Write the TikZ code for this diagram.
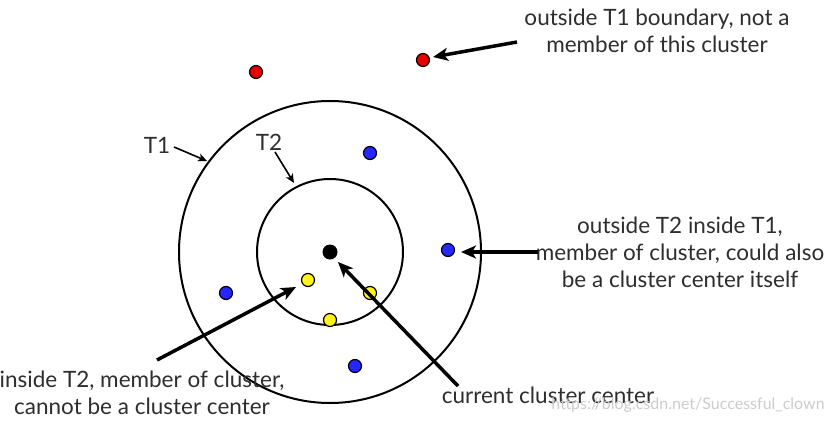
\documentclass[tikz,border=0pt]{standalone}
\usepackage{fontspec}
\setmainfont{Lato}
\usetikzlibrary{arrows.meta}
\tikzset{
  dot/.style={circle, draw=black, line width=1.2pt, minimum size=13pt, inner sep=0pt},
  reddot/.style={dot, fill=red!90!black},
  bluedot/.style={dot, fill=blue!85!white},
  yellowdot/.style={dot, fill=yellow!90!white},
  centerdot/.style={circle, fill=black, minimum size=15pt, inner sep=0pt},
  ring/.style={draw=black, line width=2pt},
  ptr/.style={line width=3.5pt, -{Stealth[length=15pt, width=13pt, inset=4pt]}},
  thinptr/.style={line width=1.6pt, -{Stealth[length=9pt, width=8pt, inset=2.5pt]}},
  lbl/.style={font=\fontsize{22.5}{27}\selectfont, text=black!82, align=center, inner sep=0pt},
}
\begin{document}
\begin{tikzpicture}[x=1pt, y=-1pt]
\useasboundingbox (0,0) rectangle (832,423);
\fill[white] (0,0) rectangle (832,423);
% rings
\draw[ring] (330,252) circle (151);
\draw[ring] (330,252) circle (73);
% points
\node[centerdot] (c) at (330,252) {};
\node[reddot] (r1) at (256,72) {};
\node[reddot] (r2) at (423,60) {};
\node[bluedot] (b1) at (370,153) {};
\node[bluedot] (b2) at (448,250) {};
\node[bluedot] (b3) at (226,293) {};
\node[bluedot] (b4) at (355,366) {};
\node[yellowdot] (y1) at (308,280) {};
\node[yellowdot] (y2) at (370,293) {};
\node[yellowdot] (y3) at (330,320) {};
% labels
\node[lbl] (t1) at (157,145) {T1};
\node[lbl] (t2) at (269,142) {T2};
\node[lbl] (lout) at (657,31) {outside T1 boundary, not a\\member of this cluster};
\node[lbl] (lmid) at (680,252) {outside T2 inside T1,\\member of cluster, could also\\be a cluster center itself};
\node[lbl] (lin) at (142,393) {inside T2, member of cluster,\\cannot be a cluster center};
\node[lbl] (lcur) at (548,395) {current cluster center};
\node[font=\fontsize{16}{18}\selectfont, text=black!20, inner sep=0pt] (wm) at (688,405) {https://blog.csdn.net/Successful\_clown};
% arrow tails
\coordinate (a1) at (517,42);
\coordinate (a2) at (538,252);
\coordinate (a3) at (157,360);
\coordinate (a4) at (458,386);
\coordinate (a5) at (174,147);
\coordinate (a6) at (275,152);
\coordinate (h1) at (433,57);
\coordinate (h2) at (461,252);
\coordinate (h3) at (296,287);
\coordinate (h4) at (338,262);
\coordinate (h5) at (207,161);
\coordinate (h6) at (294,183);
% arrows
\draw[ptr] (a1) -- (h1);
\draw[ptr] (a2) -- (h2);
\draw[ptr] (a3) -- (h3);
\draw[ptr] (a4) -- (h4);
\draw[thinptr] (a5) -- (h5);
\draw[thinptr] (a6) -- (h6);
\end{tikzpicture}
\end{document}
